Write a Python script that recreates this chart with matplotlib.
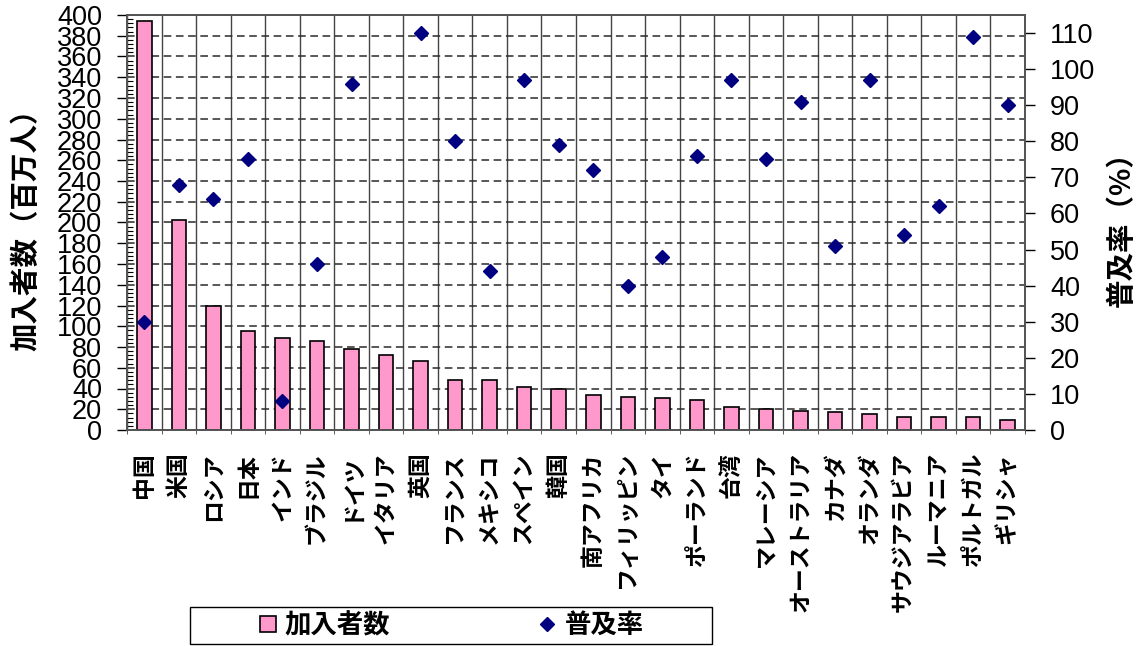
import numpy as np
import matplotlib
matplotlib.use("Agg")
import matplotlib.pyplot as plt
from matplotlib.ticker import MultipleLocator
from matplotlib.lines import Line2D
from matplotlib.patches import Rectangle

# データ
countries = ["中国", "米国", "ロシア", "日本", "インド", "ブラジル", "ドイツ", "イタリア",
             "英国", "フランス", "メキシコ", "スペイン", "韓国", "南アフリカ", "フィリッピン",
             "タイ", "ポーランド", "台湾", "マレーシア", "オーストラリア", "カナダ", "オランダ",
             "サウジアラビア", "ルーマニア", "ポルトガル", "ギリシャ"]

# 加入者数（百万人）
subscribers = [394, 202, 120, 95.4, 89, 86, 78.4, 72, 66.2, 47.9, 47.9, 41.8, 39.2,
               33.7, 32.1, 30.8, 29.2, 21.9, 20.2, 18.6, 17, 15.4, 12.5, 12.5, 12.5, 9.3]

# 普及率（%） イタリアは表示なし
penetration = [30, 68, 64, 75, 8, 46, 96, np.nan, 110, 80, 44, 97, 79, 72, 40, 48,
               76, 97, 75, 91, 51, 97, 54, 62, 109, 90]

left_ticks = list(range(0, 401, 20))
right_ticks = list(range(0, 111, 10))

JP = "Noto Sans CJK JP"
plt.rcParams["font.family"] = ["Liberation Sans", JP, "DejaVu Sans"]

W, H = 1146, 646
fig = plt.figure(figsize=(W / 100, H / 100), dpi=100)
ax = fig.add_axes([127 / W, 1 - 430 / H, 898 / W, 415 / H])
ax2 = ax.twinx()

x = np.arange(len(countries))
ax.bar(x, subscribers, width=0.42, color="#FF99CC", edgecolor="black", linewidth=1.2, zorder=3)
ax2.plot(x, penetration, linestyle="none", marker="D", markersize=7.5, color="#000080")

ax.set_xlim(-0.5, len(countries) - 0.5)
ax.set_ylim(0, 400)
ax2.set_ylim(0, 115)

# 左軸
ax.set_yticks(left_ticks)
ax.yaxis.set_minor_locator(MultipleLocator(4))
ax.tick_params(axis="y", which="major", direction="out", length=7, width=1, labelsize=19.5, pad=11)
ax.tick_params(axis="y", which="minor", direction="in", length=4, width=0.8)

# 右軸
ax2.set_yticks(right_ticks)
ax2.tick_params(axis="y", direction="out", length=7, width=1, labelsize=19.5, pad=11)

# 横軸
ax.set_xticks(x)
ax.set_xticklabels(countries, rotation=90, fontweight="bold", fontsize=16.5, family=JP)
ax.set_xticks(np.arange(-0.5, len(countries), 1), minor=True)
ax.tick_params(axis="x", which="major", length=0, pad=16)
ax.tick_params(axis="x", which="minor", length=3, color="#444444")

# グリッド
ax.grid(axis="x", which="minor", color="#444444", linewidth=1)
ax.grid(axis="y", which="major", color="#2a2a2a", linestyle=(0, (5, 3)), linewidth=1.1)
ax.set_axisbelow(True)

for a in (ax, ax2):
    for s in a.spines.values():
        s.set_color("#555555")
        s.set_linewidth(1.3)

ax.set_ylabel("加入者数（百万人）", family=JP, fontweight="bold", fontsize=20.5,
              rotation=90, va="center", ha="center")
ax.yaxis.set_label_coords((26 - 127) / 898, 0.5)
ax2.set_ylabel("普及率（%）", family=JP, fontweight="bold", fontsize=20.5,
               rotation=90, va="center", ha="center")
ax2.yaxis.set_label_coords((1122 - 127) / 898, 0.5)

# 凡例
handles = [
    Line2D([], [], linestyle="none", marker="s", markersize=11, markerfacecolor="#FF99CC",
           markeredgecolor="black", markeredgewidth=1.2),
    Line2D([], [], linestyle="none", marker="D", markersize=7, color="#000080"),
]
fig.legend(handles, ["加入者数", "普及率"], loc="center", bbox_to_anchor=(451 / W, 1 - 625.5 / H),
           ncol=2, frameon=False, prop={"family": JP, "weight": "bold", "size": 19},
           handlelength=0.7, handletextpad=0.3, columnspacing=5.6)
fig.add_artist(Rectangle((190 / W, 1 - 644 / H), 522 / W, 37 / H, transform=fig.transFigure,
                         fill=False, edgecolor="black", linewidth=1))

fig.savefig("out.png", dpi=100)
